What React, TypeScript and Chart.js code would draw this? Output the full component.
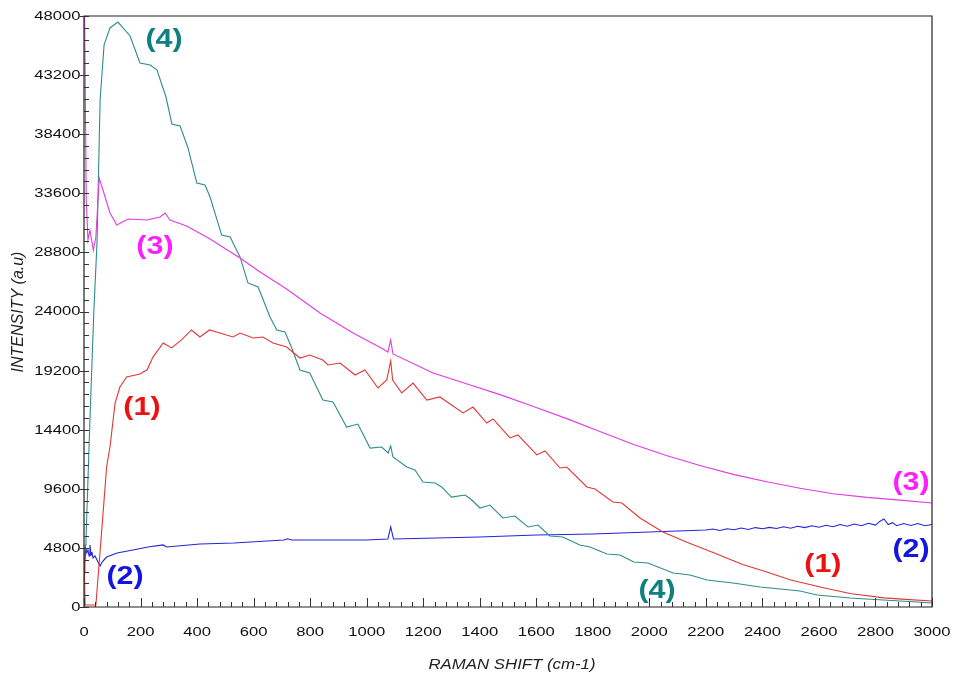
import React, { useEffect, useRef } from "react";
import { Chart, registerables } from "chart.js";

Chart.register(...registerables);

// Raman spectra: shift (cm-1) vs intensity (a.u.) for four samples.

// Sample (1)
const shift1 = [0, 4, 42, 62, 80, 92, 110, 127, 151, 198, 209, 223, 244, 280, 310, 345, 380, 410, 444, 481, 527, 552, 598, 633, 669, 717, 764, 799, 845, 863, 906, 959, 994, 1040, 1071, 1085, 1092, 1124, 1164, 1213, 1259, 1341, 1376, 1425, 1447, 1507, 1535, 1602, 1631, 1684, 1708, 1779, 1808, 1871, 1903, 1967, 2048, 2133, 2230, 2330, 2416, 2500, 2620, 2710, 2830, 2920, 3000];
const intensity1 = [4500, 160, 160, 6010, 11370, 13000, 16570, 17870, 18680, 18920, 19090, 19250, 20300, 21440, 21040, 21690, 22500, 21930, 22500, 22250, 21930, 22250, 21850, 21930, 21440, 21120, 20220, 20470, 20060, 19660, 19820, 18840, 19250, 17790, 18440, 19980, 18440, 17380, 18190, 16810, 17060, 15760, 16240, 14940, 15270, 13730, 13970, 12350, 12670, 11290, 11370, 9750, 9580, 8530, 8450, 7230, 6090, 5250, 4390, 3450, 2840, 2190, 1540, 1100, 740, 600, 490];

// Sample (2)
const shift2 = [0, 3, 6, 10, 14, 18, 21, 25, 28, 32, 39, 46, 57, 64, 80, 117, 173, 226, 280, 292, 410, 530, 707, 720, 735, 1000, 1075, 1085, 1095, 1400, 1600, 1800, 2000, 2200, 2225, 2250, 2275, 2300, 2325, 2350, 2375, 2400, 2425, 2450, 2475, 2500, 2525, 2550, 2575, 2600, 2625, 2650, 2675, 2700, 2725, 2750, 2775, 2800, 2815, 2830, 2845, 2860, 2875, 2900, 2925, 2950, 2975, 3000];
const intensity2 = [2760, 3500, 4790, 4390, 4630, 4140, 5040, 4220, 4470, 3980, 4140, 3820, 3330, 3650, 4060, 4390, 4630, 4870, 5040, 4870, 5120, 5200, 5440, 5540, 5440, 5440, 5520, 6500, 5520, 5690, 5850, 5930, 6090, 6250, 6330, 6210, 6360, 6280, 6420, 6300, 6450, 6360, 6470, 6380, 6520, 6400, 6560, 6450, 6600, 6480, 6640, 6520, 6700, 6560, 6740, 6600, 6800, 6650, 6950, 7150, 6700, 6850, 6600, 6780, 6620, 6780, 6600, 6700];

// Sample (3)
const shift3 = [0, 2, 8, 14, 21, 33, 42, 54, 67, 92, 116, 156, 222, 269, 287, 304, 363, 446, 552, 623, 717, 835, 952, 1058, 1075, 1085, 1093, 1235, 1350, 1472, 1590, 1708, 1825, 1945, 2060, 2179, 2300, 2420, 2533, 2650, 2770, 2887, 3000];
const intensity3 = [50000, 48500, 33000, 29800, 30620, 28990, 30050, 34840, 33870, 32000, 31030, 31510, 31430, 31680, 32000, 31430, 30940, 29890, 28350, 27210, 25830, 23880, 22250, 20950, 20710, 21690, 20550, 19000, 18150, 17250, 16280, 15300, 14250, 13200, 12300, 11500, 10750, 10150, 9650, 9200, 8900, 8680, 8450];

// Sample (4)
const shift4 = [0, 4, 7, 21, 35, 46, 57, 71, 92, 120, 163, 198, 234, 258, 290, 311, 340, 368, 399, 428, 446, 487, 517, 552, 580, 616, 658, 682, 711, 735, 764, 799, 845, 881, 929, 969, 1012, 1053, 1076, 1085, 1093, 1142, 1171, 1199, 1242, 1265, 1300, 1348, 1372, 1401, 1436, 1482, 1524, 1571, 1606, 1648, 1694, 1754, 1790, 1850, 1896, 1945, 1995, 2084, 2144, 2204, 2296, 2392, 2533, 2593, 2710, 2827, 2947, 3000];
const intensity4 = [2500, 5040, 5440, 15190, 24120, 29560, 41180, 45650, 47030, 47510, 46380, 44180, 44020, 43620, 41420, 39230, 39070, 37280, 34440, 34280, 33300, 30210, 30050, 28430, 26320, 25990, 23550, 22500, 22340, 21040, 19250, 19000, 16810, 16650, 14620, 14860, 12910, 12990, 12510, 13080, 12180, 11370, 11130, 10150, 10070, 9750, 8930, 9100, 8690, 8040, 8280, 7230, 7390, 6500, 6660, 5770, 5690, 5040, 4870, 4300, 4220, 3650, 3570, 2760, 2600, 2190, 1950, 1620, 1300, 975, 730, 570, 400, 325];

// Axis ticks
const xTicks = [0, 200, 400, 600, 800, 1000, 1200, 1400, 1600, 1800, 2000, 2200, 2400, 2600, 2800, 3000];
const yTicks = [0, 4800, 9600, 14400, 19200, 24000, 28800, 33600, 38400, 43200, 48000];
const xMinorStep = 40;
const yMinorStep = 960;

// Curve labels (text, shift, intensity, colour)
const curveLabels = ["(4)", "(3)", "(1)", "(2)", "(4)", "(1)", "(2)", "(3)"];
const labelShift = [283, 251, 205, 145, 2027, 2614, 2926, 2926];
const labelIntensity = [46130, 29320, 16240, 2560, 1420, 3490, 4710, 10150];
const labelColors = ["#0f8080", "#ff1eff", "#ee1111", "#1515e0", "#0f8080", "#ee1111", "#1515e0", "#ff1eff"];

const toPoints = (xs: number[], ys: number[]) => xs.map((x, i) => ({ x, y: ys[i] }));

function stretchedText(
  ctx: CanvasRenderingContext2D,
  text: string,
  x: number,
  y: number,
  sx: number,
  align: CanvasTextAlign
) {
  ctx.save();
  ctx.translate(x, y);
  ctx.scale(sx, 1);
  ctx.textAlign = align;
  ctx.fillText(text, 0, 0);
  ctx.restore();
}

const axesPlugin = {
  id: "spectrumAxes",
  afterDraw(chart: any) {
    const ctx: CanvasRenderingContext2D = chart.ctx;
    const xs = chart.scales.x;
    const ys = chart.scales.y;
    const { left, right, top, bottom } = chart.chartArea;

    ctx.save();
    // frame
    ctx.strokeStyle = "#222";
    ctx.lineWidth = 1.2;
    ctx.beginPath();
    ctx.moveTo(left, top);
    ctx.lineTo(right, top);
    ctx.lineTo(right, bottom);
    ctx.lineTo(left, bottom);
    ctx.closePath();
    ctx.stroke();

    // x ticks (pointing up into the plot)
    ctx.lineWidth = 1;
    ctx.strokeStyle = "#333";
    ctx.beginPath();
    for (let v = 0; v <= 3000; v += xMinorStep) {
      const px = Math.round(xs.getPixelForValue(v)) + 0.5;
      const major = v % 200 === 0;
      ctx.moveTo(px, bottom);
      ctx.lineTo(px, bottom - (major ? 9 : 5));
    }
    // y ticks
    for (let v = 0; v <= 48000; v += yMinorStep) {
      const py = Math.round(ys.getPixelForValue(v)) + 0.5;
      const major = v % 4800 === 0;
      ctx.moveTo(left - (major ? 4 : 0), py);
      ctx.lineTo(left + 5, py);
    }
    ctx.stroke();

    // tick labels
    ctx.fillStyle = "#111";
    ctx.font = '12.5px "Liberation Sans", Arial, sans-serif';
    ctx.textBaseline = "middle";
    xTicks.forEach((v) => {
      stretchedText(ctx, String(v), xs.getPixelForValue(v), bottom + 26, 1.33, "center");
    });
    yTicks.forEach((v) => {
      stretchedText(ctx, String(v), left - 3.5, ys.getPixelForValue(v) + 0.5, 1.33, "right");
    });

    // axis titles
    ctx.fillStyle = "#222";
    ctx.font = 'italic 14px "Liberation Sans", Arial, sans-serif';
    stretchedText(ctx, "RAMAN SHIFT (cm-1)", (left + right) / 2 + 4, bottom + 58, 1.2, "center");
    ctx.save();
    ctx.translate(19, 312);
    ctx.rotate(-Math.PI / 2);
    ctx.font = 'italic 16px "Liberation Sans", Arial, sans-serif';
    ctx.textAlign = "center";
    ctx.fillText("INTENSITY (a.u)", 0, 0);
    ctx.restore();

    // curve labels
    ctx.font = 'bold 26px "Liberation Sans", Arial, sans-serif';
    curveLabels.forEach((t, i) => {
      ctx.fillStyle = labelColors[i];
      stretchedText(
        ctx,
        t,
        xs.getPixelForValue(labelShift[i]),
        ys.getPixelForValue(labelIntensity[i]) + 1,
        1.17,
        "center"
      );
    });
    ctx.restore();
  },
};

export default function App() {
  const canvasRef = useRef<HTMLCanvasElement | null>(null);

  useEffect(() => {
    const canvas = canvasRef.current;
    if (!canvas) return;
    const line = (data: { x: number; y: number }[], color: string) => ({
      data,
      borderColor: color,
      backgroundColor: color,
      borderWidth: 1.1,
      pointRadius: 0,
      tension: 0,
      fill: false,
    });
    const chart = new Chart(canvas, {
      type: "line",
      data: {
        datasets: [
          line(toPoints(shift3, intensity3), "#e23be2"),
          line(toPoints(shift1, intensity1), "#e23636"),
          line(toPoints(shift4, intensity4), "#2f8c8c"),
          line(toPoints(shift2, intensity2), "#2424dc"),
        ],
      },
      options: {
        animation: false,
        responsive: false,
        maintainAspectRatio: false,
        devicePixelRatio: 1,
        layout: { padding: { left: 84, right: 22, top: 16, bottom: 72 } },
        scales: {
          x: { type: "linear", min: 0, max: 3000, display: false },
          y: { type: "linear", min: 0, max: 48000, display: false },
        },
        plugins: {
          legend: { display: false },
          tooltip: { enabled: false },
        },
      },
      plugins: [axesPlugin],
    });
    return () => chart.destroy();
  }, []);

  return (
    <div style={{ position: "fixed", left: 0, top: 0, width: 954, height: 679, background: "#fff" }}>
      <canvas ref={canvasRef} width={954} height={679} style={{ display: "block" }} />
    </div>
  );
}
